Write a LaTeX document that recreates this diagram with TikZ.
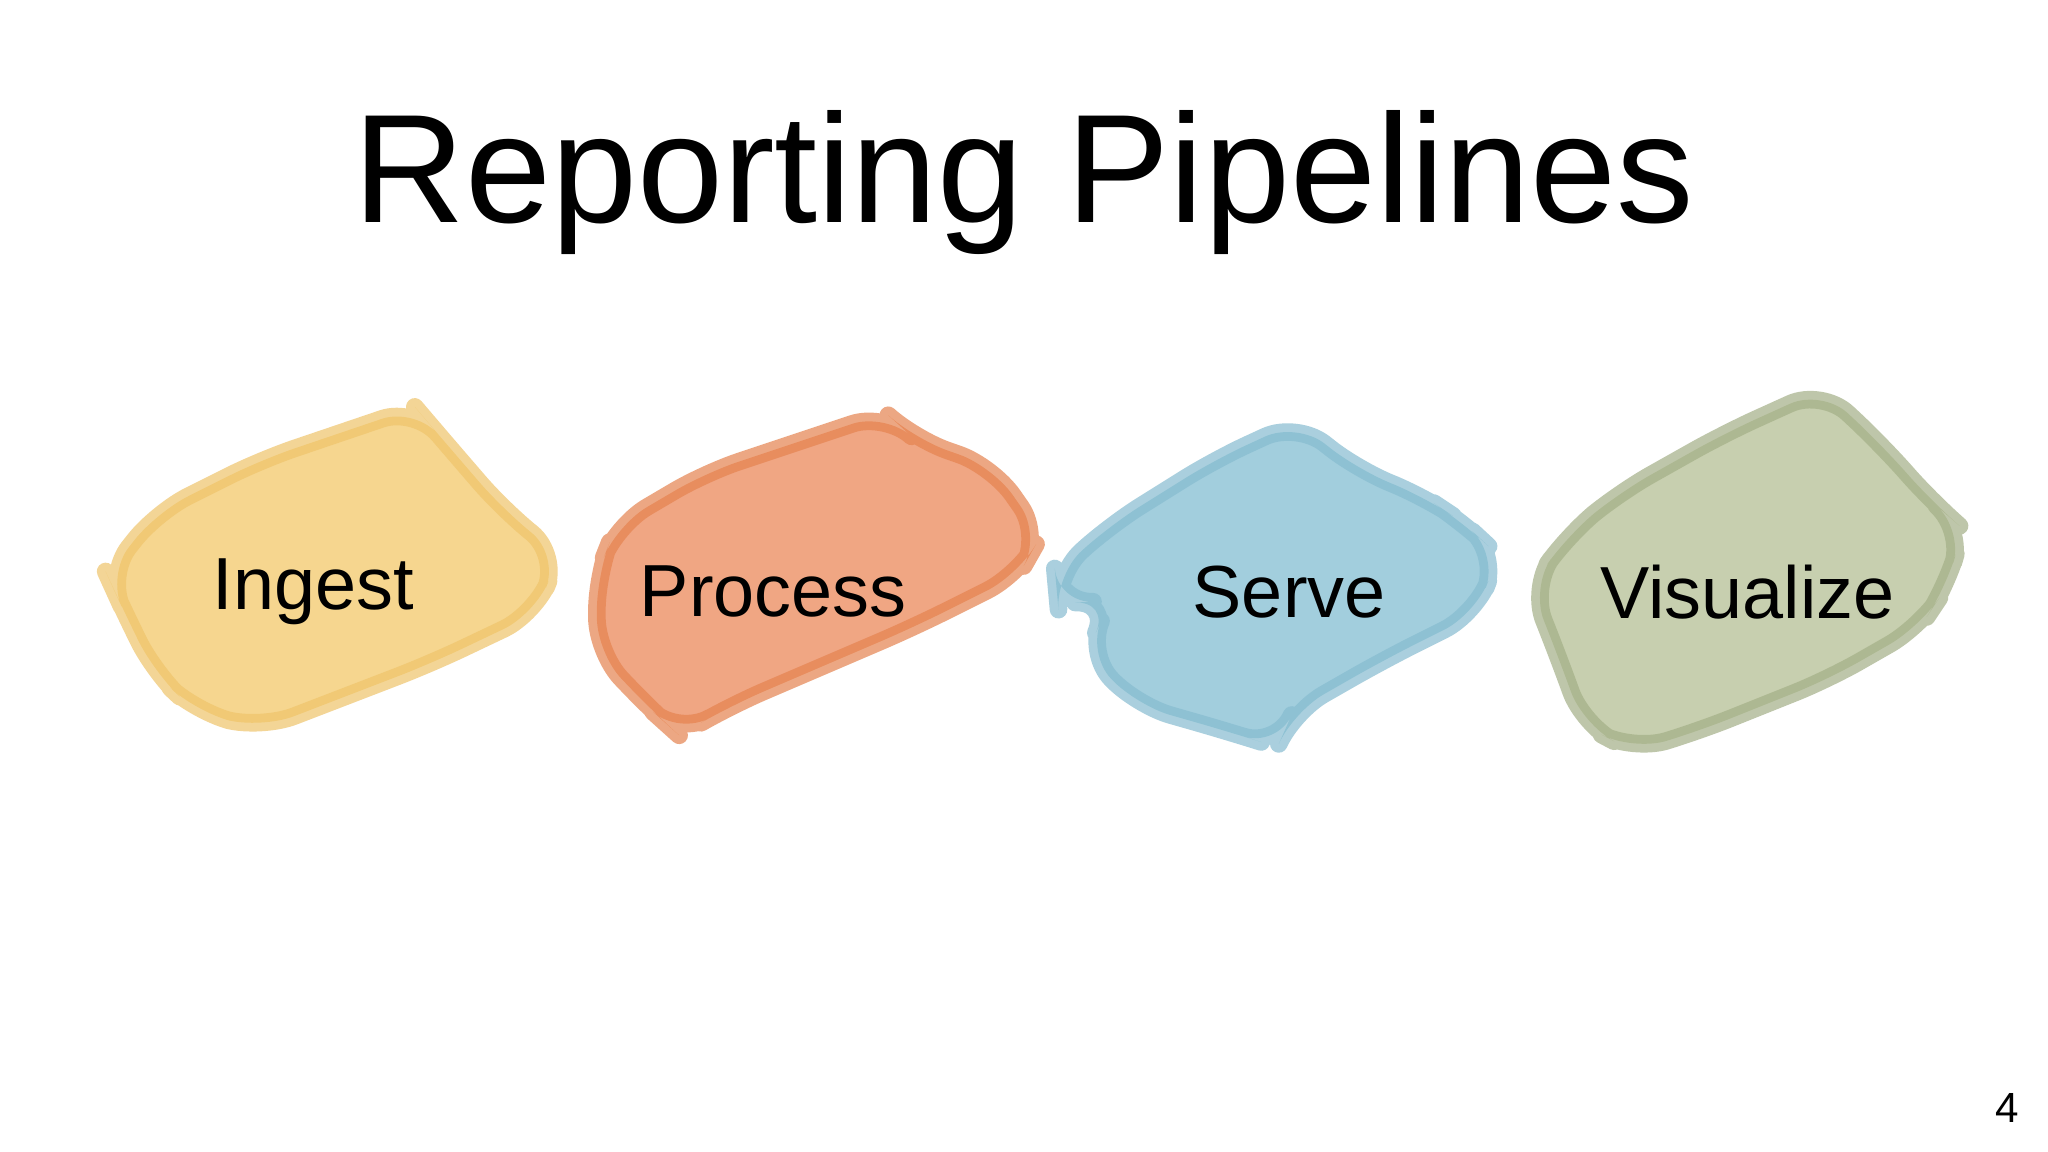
\documentclass[tikz,border=0pt]{standalone}
\usepackage{fontspec}
\setmainfont{Liberation Sans}
\definecolor{ingA}{HTML}{F6D68F}\definecolor{ingB}{HTML}{EFC46A}
\definecolor{proA}{HTML}{F0A683}\definecolor{proB}{HTML}{E5834F}
\definecolor{serA}{HTML}{A2CEDD}\definecolor{serB}{HTML}{86BCD0}
\definecolor{visA}{HTML}{C7CFAF}\definecolor{visB}{HTML}{A3AF86}
\tikzset{
 blob/.style n args={2}{fill=#1, draw=#2, draw opacity=0.7, line width=5pt, rounded corners=10pt, line join=round},
 lbl/.style={font=\fontsize{21}{24}\selectfont, text=black}
}
\begin{document}
\begin{tikzpicture}[x=0.013061cm,y=-0.013061cm]
\useasboundingbox[fill=white] (0,0) rectangle (1568,882);
\node (title) at (784,140) {\fontsize{44}{50}\selectfont Reporting Pipelines};
\path[blob={ingA}{ingB}] (82,440)--(120,392)--(200,352)--(318,312)--(335,332)--(385,390)--(428,425)--(410,470)--(330,508)--(200,558)--(150,545)--(118,515)--(92,462)--cycle;
\path[blob={proA}{proB}] (457,440)--(472,402)--(540,362)--(678,316)--(700,336)--(760,357)--(797,410)--(780,440)--(700,480)--(560,540)--(520,563)--(500,545)--(457,500)--cycle;
\path[blob={serA}{serB}] (808,440)--(850,402)--(930,352)--(993,323)--(1040,360)--(1090,380)--(1120,400)--(1147,425)--(1130,470)--(1060,505)--(990,545)--(978,572)--(940,560)--(870,540)--(832,500)--(850,460)--(810,462)--cycle;
\path[blob={visA}{visB}] (1172,450)--(1200,410)--(1240,377)--(1320,332)--(1395,298)--(1440,340)--(1480,385)--(1503,405)--(1490,450)--(1470,480)--(1400,520)--(1300,560)--(1250,575)--(1212,555)--(1192,500)--cycle;
\node[lbl] (ingest) at (240,453) {Ingest};
\node[lbl] (process) at (592,453) {Process};
\node[lbl] (serve) at (987,453) {Serve};
\node[lbl] (vis) at (1338,453) {Visualize};
\node[font=\fontsize{12}{14}\selectfont] (pg) at (1537,848) {4};
\end{tikzpicture}
\end{document}
